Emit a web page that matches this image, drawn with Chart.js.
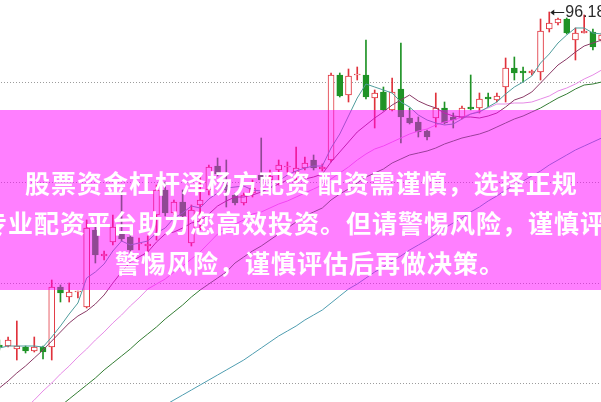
<!DOCTYPE html>
<html lang="zh-CN">
<head>
<meta charset="UTF-8">
<title>K线图</title>
<script src="https://cdn.jsdelivr.net/npm/chart.js@4"></script>
<style>
  html, body { margin: 0; padding: 0; background: #fff; overflow: hidden; }
  #stage { position: relative; width: 601px; height: 402px; overflow: hidden; }
  #wrap { position: absolute; left: -5px; top: 0; width: 611px; height: 402px; }
  .band { position: absolute; left: 0; top: 110px; width: 601px; height: 180px; background: rgba(255, 0, 255, 0.5); }
  .txt {
    position: absolute; color: #fff; white-space: nowrap;
    font-family: "Noto Sans CJK SC", sans-serif; font-weight: 700;
    font-size: 25px; line-height: 40px; letter-spacing: 1px;
  }
</style>
</head>
<body>
<div id="stage">
  <div id="wrap"><canvas id="k" width="611" height="402"></canvas></div>
  <div class="band"></div>
  <div class="txt" style="left:25px;top:162px">股票资金杠杆泽杨方配资 配资需谨慎，选择正规</div>
  <div class="txt" style="left:-18px;top:202px">专业配资平台助力您高效投资。但请警惕风险，谨慎评</div>
  <div class="txt" style="left:115px;top:242px">警惕风险，谨慎评估后再做决策。</div>
</div>
<script>
const days = [1,2,3,4,5,6,7,8,9,10,11,12,13,14,15,16,17,18,19,20,21,22,23,24,25,26,27,28,29,30,
  31,32,33,34,35,36,37,38,39,40,41,42,43,44,45,46,47,48,49,50,51,52,53,54,55,56,57,58,59,60,
  61,62,63,64,65,66,67,68,69,70];

const open = [62.88,62.78,62.48,62.68,62.28,62.68,62.68,68.68,67.68,68.18,
  66.68,74.38,71.78,73.18,74.08,73.68,72.98,72.78,75.88,78.38,
  76.08,77.18,73.08,76.88,78.38,80.78,78.88,77.88,77.08,78.08,
  79.88,79.38,80.38,80.68,80.18,80.58,81.38,80.48,81.38,89.88,
  87.88,89.88,89.88,87.58,88.18,86.38,88.48,85.58,85.18,84.28,
  85.58,86.58,85.68,85.58,86.68,86.58,87.68,87.38,88.68,90.58,
  90.28,90.08,90.18,94.48,95.08,95.48,93.38,94.08,94.18,93.38];
const close = [62.68,63.38,62.78,62.28,62.68,62.18,68.68,68.08,68.18,68.28,
  74.58,71.88,71.98,74.68,73.48,72.38,73.08,72.98,78.38,76.08,
  77.18,75.78,76.38,77.38,80.68,79.98,78.38,77.08,77.88,78.58,
  79.38,79.78,80.88,80.78,80.58,81.08,80.58,80.68,89.88,87.78,
  89.78,89.98,87.68,88.08,86.38,88.18,85.68,85.08,84.18,83.68,
  86.58,85.08,85.38,86.58,86.48,87.48,87.48,87.78,90.58,90.08,
  90.08,90.28,94.28,95.08,95.48,94.08,94.08,94.28,92.68,93.88];
const high = [63.38,63.68,65.28,62.78,63.68,62.78,69.38,68.88,69.08,68.28,
  75.38,74.68,72.28,75.88,78.38,73.88,73.58,73.78,78.88,79.18,
  77.38,78.38,76.88,79.68,80.88,81.58,81.38,78.08,78.08,79.38,
  83.58,80.38,81.38,81.18,82.68,81.68,81.88,80.98,90.08,90.08,
  90.48,90.68,93.38,88.38,88.68,89.58,93.08,86.58,85.68,84.38,
  88.08,87.18,86.08,86.78,89.88,88.08,88.08,88.08,91.58,91.68,
  90.68,90.38,95.48,96.18,95.58,95.58,94.58,95.88,94.48,94.08];
const low = [62.38,62.68,61.38,62.08,62.18,61.48,61.38,67.18,67.18,67.58,
  66.58,71.08,71.38,72.88,73.28,71.98,72.38,72.18,73.38,75.78,
  75.88,75.58,72.78,74.38,77.88,79.78,76.68,76.88,76.88,77.68,
  78.68,79.08,78.88,80.18,79.08,80.38,80.38,80.28,81.18,87.68,
  87.18,89.38,87.48,84.58,86.28,86.28,83.08,84.98,83.68,83.38,
  84.68,84.98,84.58,85.48,86.38,86.08,86.68,87.18,87.18,89.38,
  89.18,89.88,89.38,94.18,94.88,93.98,91.38,94.08,92.38,93.18];

const ma5 = [62.58,62.78,62.78,62.78,62.78,62.68,63.68,64.78,65.98,67.08,
  69.58,70.18,70.98,72.28,73.28,72.88,73.08,73.28,74.08,74.58,
  75.58,76.08,76.78,76.58,77.48,78.08,78.58,78.68,78.78,78.38,
  78.28,78.58,79.28,79.88,80.28,80.58,80.78,80.78,82.58,83.98,
  85.78,87.58,88.98,88.68,88.38,88.08,87.18,86.68,85.88,85.38,
  85.08,84.88,84.98,85.48,85.98,86.18,86.68,87.18,87.98,88.68,
  89.18,89.78,91.08,91.98,93.08,93.88,94.58,94.58,94.08,93.98];
const ma10 = [58.58,59.28,60.08,60.78,61.58,62.38,63.28,64.18,65.08,65.78,
  66.28,66.98,67.88,69.08,70.18,71.18,71.68,72.18,73.18,73.98,
  74.18,74.58,75.08,75.28,75.98,76.78,77.28,77.68,77.68,77.88,
  78.18,78.58,78.98,79.38,79.28,79.48,79.68,79.98,81.18,82.18,
  83.18,84.18,84.88,85.58,86.18,86.88,87.38,87.88,87.28,86.88,
  86.58,86.08,85.78,85.68,85.68,85.58,85.78,86.08,86.68,87.38,
  87.68,88.18,89.08,89.98,90.88,91.48,92.18,92.78,93.08,93.38];
const ma20 = [54.08,54.88,55.68,56.58,57.38,58.28,59.08,59.98,60.78,61.68,
  62.48,63.38,64.18,65.08,65.88,66.78,67.58,68.48,68.98,69.48,
  70.18,70.78,71.48,72.18,73.08,73.98,74.48,74.98,75.38,75.98,
  76.18,76.58,76.98,77.28,77.68,78.08,78.48,78.88,79.48,80.08,
  80.68,81.38,81.98,82.48,82.78,83.18,83.58,83.98,84.28,84.48,
  84.88,85.18,85.38,85.68,85.98,86.28,86.58,86.98,86.98,87.08,
  87.08,87.18,87.48,87.78,88.28,88.58,88.98,89.48,89.88,90.38];
const ma30 = [null,null,null,null,null,null,null,56.78,57.48,58.18,
  58.88,59.58,60.38,61.08,61.78,62.48,63.28,63.98,64.68,65.48,
  66.18,66.88,67.68,68.38,68.98,69.58,70.18,71.08,71.68,72.28,
  72.78,73.38,73.98,74.58,75.18,75.78,76.18,76.58,77.38,77.98,
  78.48,79.08,79.68,80.08,80.48,81.08,81.48,81.88,82.08,82.28,
  82.58,82.98,83.28,83.58,83.78,83.98,84.28,84.68,85.08,85.48,
  85.78,86.18,86.58,87.08,87.58,87.98,88.48,88.88,88.98,89.18];
const ma60 = [null,null,null,null,null,null,null,null,null,null,
  null,null,null,null,null,null,null,null,null,56.88,
  57.38,57.88,58.38,58.88,59.38,59.88,60.38,60.88,61.38,61.98,
  62.58,63.18,63.78,64.28,64.78,65.38,65.88,66.38,67.08,67.78,
  68.48,68.98,69.58,70.18,70.68,71.28,71.78,72.38,72.88,73.38,
  73.98,74.58,75.08,75.58,76.18,76.68,77.28,77.78,78.38,78.88,
  79.28,79.78,80.28,80.88,81.38,81.88,82.38,82.78,83.18,83.58];

const gridValues = [89.18, 79.15, 69.12, 59.09];

const RED = '#e0323c';
const GREEN = '#1f9326';

const up = close.map((c, i) => c >= open[i]);
const bodies = open.map((o, i) => [Math.min(o, close[i]), Math.max(o, close[i])]);
const wicks = low.map((l, i) => [l, high[i]]);
const edge = up.map(u => u ? RED : GREEN);
const fill = up.map(u => u ? '#ffffff' : GREEN);

// dotted grid lines and the high-price marker
const extras = {
  id: 'extras',
  beforeDatasetsDraw(chart) {
    const { ctx, chartArea, scales } = chart;
    ctx.save();
    ctx.strokeStyle = '#9c9c9c';
    ctx.lineWidth = 1;
    ctx.setLineDash([1, 2]);
    gridValues.forEach(v => {
      const py = Math.round(scales.y.getPixelForValue(v)) + 0.5;
      ctx.beginPath();
      ctx.moveTo(chartArea.left, py);
      ctx.lineTo(chartArea.right, py);
      ctx.stroke();
    });
    ctx.restore();
  },
  afterDatasetsDraw(chart) {
    const { ctx, scales } = chart;
    const top = Math.max(...high);
    const idx = high.indexOf(top);
    const px = scales.x.getPixelForValue(idx);
    const py = Math.round(scales.y.getPixelForValue(top)) + 0.5;
    ctx.save();
    ctx.strokeStyle = '#222';
    ctx.fillStyle = '#222';
    ctx.lineWidth = 1;
    ctx.beginPath();
    ctx.moveTo(px + 2, py);
    ctx.lineTo(px + 15, py);
    ctx.stroke();
    ctx.beginPath();
    ctx.moveTo(px + 1, py);
    ctx.lineTo(px + 5, py - 3);
    ctx.lineTo(px + 5, py + 3);
    ctx.closePath();
    ctx.fill();
    ctx.font = '16px "Liberation Sans", Arial, sans-serif';
    ctx.fillStyle = '#2a2a2a';
    ctx.textBaseline = 'middle';
    ctx.fillText(top.toFixed(2), px + 16, py);
    ctx.restore();
  }
};

const line = (data, color) => ({
  type: 'line', data, borderColor: color, borderWidth: 1,
  pointRadius: 0, tension: 0, fill: false, order: 0
});

new Chart(document.getElementById('k'), {
  data: {
    labels: days,
    datasets: [
      line(ma5, '#4f9c9c'),
      line(ma10, '#8a3a66'),
      line(ma20, '#e68ae6'),
      line(ma30, '#347d34'),
      line(ma60, '#4f9db0'),
      {
        type: 'bar', data: bodies, backgroundColor: fill, borderColor: edge,
        borderWidth: 1, borderSkipped: false, barThickness: 6, minBarLength: 1,
        grouped: false, order: 1
      },
      {
        type: 'bar', data: wicks, backgroundColor: edge, borderWidth: 0,
        barThickness: 1, grouped: false, order: 2
      }
    ]
  },
  options: {
    responsive: false,
    animation: false,
    layout: { padding: 0 },
    plugins: { legend: { display: false }, tooltip: { enabled: false } },
    scales: {
      x: { type: 'category', display: false, offset: true },
      y: { display: false, min: 57.18, max: 97.38 }
    }
  },
  plugins: [extras]
});
</script>
</body>
</html>
